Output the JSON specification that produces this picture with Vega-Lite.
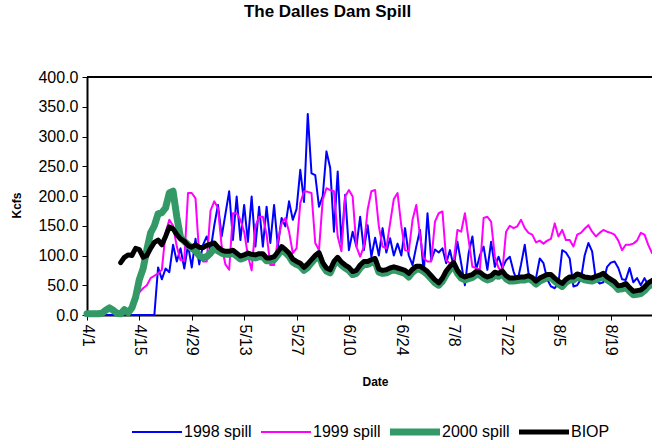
{
  "$schema": "https://vega.github.io/schema/vega-lite/v6.json",
  "width": 565,
  "height": 238,
  "autosize": {"type": "none"},
  "padding": {"left": 87, "top": 77, "right": 0, "bottom": 127},
  "background": "white",
  "title": {"text": "The Dalles Dam Spill", "font": "Liberation Sans", "fontSize": 17, "fontWeight": "bold", "color": "black", "anchor": "middle", "frame": "group", "dx": -42, "offset": 48},
  "config": {
    "view": {"stroke": null},
    "legend": {"orient": "none", "legendX": 44, "legendY": 347, "direction": "horizontal", "symbolType": "stroke", "symbolSize": 2500, "clipHeight": 16, "labelFontSize": 16, "labelFont": "Liberation Sans", "labelColor": "black", "labelOffset": 1, "columnPadding": 8, "padding": 0},
    "axisY": {
      "values": [0, 50, 100, 150, 200, 250, 300, 350, 400], "format": ".1f",
      "labelFont": "Liberation Sans", "labelFontSize": 16, "labelColor": "black", "labelPadding": 4,
      "tickSize": 5, "tickColor": "black", "domainColor": "black", "domainWidth": 2, "grid": false,
      "titleFont": "Liberation Sans", "titleFontSize": 12, "titleFontWeight": "bold", "titleColor": "black",
      "titleX": -71, "titleY": 128, "titleAngle": -90, "titleAlign": "center", "titleBaseline": "middle"
    }
  },
  "data": {"values": [
    {"date":"2000/04/01","1998 spill":0,"2000 spill":2},
    {"date":"2000/04/02","1998 spill":0,"2000 spill":2},
    {"date":"2000/04/03","1998 spill":0,"2000 spill":2},
    {"date":"2000/04/04","1998 spill":0,"2000 spill":2},
    {"date":"2000/04/05","1998 spill":0,"2000 spill":3},
    {"date":"2000/04/06","1998 spill":0,"2000 spill":8},
    {"date":"2000/04/07","1998 spill":0,"2000 spill":12},
    {"date":"2000/04/08","1998 spill":0,"2000 spill":8},
    {"date":"2000/04/09","1998 spill":0,"2000 spill":3},
    {"date":"2000/04/10","1998 spill":0,"2000 spill":2,"BIOP":88},
    {"date":"2000/04/11","1998 spill":0,"2000 spill":9,"BIOP":97},
    {"date":"2000/04/12","1998 spill":0,"2000 spill":4,"BIOP":101},
    {"date":"2000/04/13","1998 spill":0,"2000 spill":12,"BIOP":100},
    {"date":"2000/04/14","1998 spill":0,"1999 spill":36,"2000 spill":30,"BIOP":112},
    {"date":"2000/04/15","1998 spill":0,"1999 spill":38,"2000 spill":60,"BIOP":110},
    {"date":"2000/04/16","1998 spill":0,"1999 spill":45,"2000 spill":78,"BIOP":97},
    {"date":"2000/04/17","1998 spill":0,"1999 spill":50,"2000 spill":110,"BIOP":100},
    {"date":"2000/04/18","1998 spill":0,"1999 spill":62,"2000 spill":138,"BIOP":112},
    {"date":"2000/04/19","1998 spill":0,"1999 spill":66,"2000 spill":150,"BIOP":122},
    {"date":"2000/04/20","1998 spill":80,"1999 spill":70,"2000 spill":170,"BIOP":126},
    {"date":"2000/04/21","1998 spill":60,"1999 spill":76,"2000 spill":172,"BIOP":118},
    {"date":"2000/04/22","1998 spill":78,"1999 spill":138,"2000 spill":180,"BIOP":132},
    {"date":"2000/04/23","1998 spill":72,"1999 spill":160,"2000 spill":205,"BIOP":148},
    {"date":"2000/04/24","1998 spill":118,"1999 spill":150,"2000 spill":208,"BIOP":145},
    {"date":"2000/04/25","1998 spill":90,"1999 spill":115,"2000 spill":165,"BIOP":135},
    {"date":"2000/04/26","1998 spill":112,"1999 spill":92,"2000 spill":130,"BIOP":128},
    {"date":"2000/04/27","1998 spill":78,"1999 spill":92,"2000 spill":124,"BIOP":124},
    {"date":"2000/04/28","1998 spill":118,"1999 spill":205,"2000 spill":118,"BIOP":117},
    {"date":"2000/04/29","1998 spill":80,"1999 spill":205,"2000 spill":112,"BIOP":114},
    {"date":"2000/04/30","1998 spill":128,"1999 spill":196,"2000 spill":108,"BIOP":118},
    {"date":"2000/05/01","1998 spill":85,"1999 spill":100,"2000 spill":100,"BIOP":114},
    {"date":"2000/05/02","1998 spill":118,"1999 spill":90,"2000 spill":96,"BIOP":113},
    {"date":"2000/05/03","1998 spill":132,"1999 spill":90,"2000 spill":98,"BIOP":117},
    {"date":"2000/05/04","1998 spill":108,"1999 spill":175,"2000 spill":104,"BIOP":119},
    {"date":"2000/05/05","1998 spill":150,"1999 spill":191,"2000 spill":112,"BIOP":121},
    {"date":"2000/05/06","1998 spill":185,"1999 spill":180,"2000 spill":108,"BIOP":114},
    {"date":"2000/05/07","1998 spill":132,"1999 spill":115,"2000 spill":104,"BIOP":109},
    {"date":"2000/05/08","1998 spill":170,"1999 spill":85,"2000 spill":102,"BIOP":107},
    {"date":"2000/05/09","1998 spill":208,"1999 spill":76,"2000 spill":102,"BIOP":107},
    {"date":"2000/05/10","1998 spill":126,"1999 spill":171,"2000 spill":104,"BIOP":109},
    {"date":"2000/05/11","1998 spill":199,"1999 spill":171,"2000 spill":99,"BIOP":104},
    {"date":"2000/05/12","1998 spill":126,"1999 spill":160,"2000 spill":94,"BIOP":99},
    {"date":"2000/05/13","1998 spill":185,"1999 spill":140,"2000 spill":96,"BIOP":101},
    {"date":"2000/05/14","1998 spill":123,"1999 spill":100,"2000 spill":99,"BIOP":104},
    {"date":"2000/05/15","1998 spill":199,"1999 spill":75,"2000 spill":97,"BIOP":102},
    {"date":"2000/05/16","1998 spill":115,"1999 spill":149,"2000 spill":96,"BIOP":101},
    {"date":"2000/05/17","1998 spill":182,"1999 spill":165,"2000 spill":98,"BIOP":103},
    {"date":"2000/05/18","1998 spill":115,"1999 spill":165,"2000 spill":98,"BIOP":103},
    {"date":"2000/05/19","1998 spill":182,"1999 spill":135,"2000 spill":91,"BIOP":96},
    {"date":"2000/05/20","1998 spill":121,"1999 spill":84,"2000 spill":91,"BIOP":96},
    {"date":"2000/05/21","1998 spill":185,"1999 spill":84,"2000 spill":93,"BIOP":98},
    {"date":"2000/05/22","1998 spill":115,"1999 spill":125,"2000 spill":101,"BIOP":106},
    {"date":"2000/05/23","1998 spill":163,"1999 spill":154,"2000 spill":110,"BIOP":115},
    {"date":"2000/05/24","1998 spill":149,"1999 spill":163,"2000 spill":105,"BIOP":110},
    {"date":"2000/05/25","1998 spill":191,"1999 spill":140,"2000 spill":99,"BIOP":104},
    {"date":"2000/05/26","1998 spill":160,"1999 spill":104,"2000 spill":89,"BIOP":94},
    {"date":"2000/05/27","1998 spill":178,"1999 spill":112,"2000 spill":85,"BIOP":90},
    {"date":"2000/05/28","1998 spill":244,"1999 spill":188,"2000 spill":82,"BIOP":87},
    {"date":"2000/05/29","1998 spill":190,"1999 spill":208,"2000 spill":75,"BIOP":80},
    {"date":"2000/05/30","1998 spill":338,"1999 spill":207,"2000 spill":80,"BIOP":86},
    {"date":"2000/05/31","1998 spill":238,"1999 spill":205,"2000 spill":88,"BIOP":93},
    {"date":"2000/06/01","1998 spill":235,"1999 spill":121,"2000 spill":95,"BIOP":100},
    {"date":"2000/06/02","1998 spill":182,"1999 spill":109,"2000 spill":100,"BIOP":105},
    {"date":"2000/06/03","1998 spill":200,"1999 spill":194,"2000 spill":83,"BIOP":88},
    {"date":"2000/06/04","1998 spill":275,"1999 spill":213,"2000 spill":74,"BIOP":79},
    {"date":"2000/06/05","1998 spill":247,"1999 spill":210,"2000 spill":71,"BIOP":76},
    {"date":"2000/06/06","1998 spill":140,"1999 spill":208,"2000 spill":85,"BIOP":90},
    {"date":"2000/06/07","1998 spill":241,"1999 spill":132,"2000 spill":92,"BIOP":97},
    {"date":"2000/06/08","1998 spill":121,"1999 spill":107,"2000 spill":84,"BIOP":89},
    {"date":"2000/06/09","1998 spill":202,"1999 spill":199,"2000 spill":79,"BIOP":84},
    {"date":"2000/06/10","1998 spill":109,"1999 spill":210,"2000 spill":75,"BIOP":80},
    {"date":"2000/06/11","1998 spill":140,"1999 spill":199,"2000 spill":68,"BIOP":73},
    {"date":"2000/06/12","1998 spill":115,"1999 spill":115,"2000 spill":70,"BIOP":75},
    {"date":"2000/06/13","1998 spill":165,"1999 spill":98,"2000 spill":79,"BIOP":84},
    {"date":"2000/06/14","1998 spill":109,"1999 spill":115,"2000 spill":85,"BIOP":90},
    {"date":"2000/06/15","1998 spill":151,"1999 spill":177,"2000 spill":85,"BIOP":90},
    {"date":"2000/06/16","1998 spill":98,"1999 spill":208,"2000 spill":88,"BIOP":93},
    {"date":"2000/06/17","1998 spill":130,"1999 spill":210,"2000 spill":90,"BIOP":95},
    {"date":"2000/06/18","1998 spill":100,"1999 spill":149,"2000 spill":72,"BIOP":77},
    {"date":"2000/06/19","1998 spill":146,"1999 spill":115,"2000 spill":70,"BIOP":75},
    {"date":"2000/06/20","1998 spill":105,"1999 spill":112,"2000 spill":71,"BIOP":76},
    {"date":"2000/06/21","1998 spill":129,"1999 spill":154,"2000 spill":74,"BIOP":79},
    {"date":"2000/06/22","1998 spill":100,"1999 spill":195,"2000 spill":76,"BIOP":81},
    {"date":"2000/06/23","1998 spill":120,"1999 spill":205,"2000 spill":74,"BIOP":79},
    {"date":"2000/06/24","1998 spill":100,"1999 spill":150,"2000 spill":72,"BIOP":77},
    {"date":"2000/06/25","1998 spill":146,"1999 spill":109,"2000 spill":70,"BIOP":75},
    {"date":"2000/06/26","1998 spill":100,"1999 spill":107,"2000 spill":64,"BIOP":70},
    {"date":"2000/06/27","1998 spill":84,"1999 spill":160,"2000 spill":72,"BIOP":77},
    {"date":"2000/06/28","1998 spill":115,"1999 spill":185,"2000 spill":77,"BIOP":82},
    {"date":"2000/06/29","1998 spill":143,"1999 spill":132,"2000 spill":77,"BIOP":82},
    {"date":"2000/06/30","1998 spill":71,"1999 spill":95,"2000 spill":73,"BIOP":78},
    {"date":"2000/07/01","1998 spill":171,"1999 spill":90,"2000 spill":68,"BIOP":73},
    {"date":"2000/07/02","1998 spill":92,"1999 spill":90,"2000 spill":61,"BIOP":66},
    {"date":"2000/07/03","1998 spill":110,"1999 spill":157,"2000 spill":54,"BIOP":59},
    {"date":"2000/07/04","1998 spill":105,"1999 spill":171,"2000 spill":50,"BIOP":54},
    {"date":"2000/07/05","1998 spill":112,"1999 spill":174,"2000 spill":57,"BIOP":62},
    {"date":"2000/07/06","1998 spill":87,"1999 spill":92,"2000 spill":68,"BIOP":74},
    {"date":"2000/07/07","1998 spill":109,"1999 spill":87,"2000 spill":77,"BIOP":82},
    {"date":"2000/07/08","1998 spill":81,"1999 spill":90,"2000 spill":83,"BIOP":88},
    {"date":"2000/07/09","1998 spill":123,"1999 spill":143,"2000 spill":70,"BIOP":75},
    {"date":"2000/07/10","1998 spill":87,"1999 spill":140,"2000 spill":62,"BIOP":67},
    {"date":"2000/07/11","1998 spill":50,"1999 spill":171,"2000 spill":59,"BIOP":64},
    {"date":"2000/07/12","1998 spill":104,"1999 spill":126,"2000 spill":61,"BIOP":66},
    {"date":"2000/07/13","1998 spill":132,"1999 spill":81,"2000 spill":63,"BIOP":68},
    {"date":"2000/07/14","1998 spill":76,"1999 spill":79,"2000 spill":68,"BIOP":73},
    {"date":"2000/07/15","1998 spill":100,"1999 spill":76,"2000 spill":67,"BIOP":72},
    {"date":"2000/07/16","1998 spill":115,"1999 spill":163,"2000 spill":62,"BIOP":67},
    {"date":"2000/07/17","1998 spill":76,"1999 spill":165,"2000 spill":59,"BIOP":64},
    {"date":"2000/07/18","1998 spill":123,"1999 spill":157,"2000 spill":61,"BIOP":66},
    {"date":"2000/07/19","1998 spill":81,"1999 spill":98,"2000 spill":67,"BIOP":72},
    {"date":"2000/07/20","1998 spill":98,"1999 spill":79,"2000 spill":65,"BIOP":70},
    {"date":"2000/07/21","1998 spill":79,"1999 spill":73,"2000 spill":69,"BIOP":74},
    {"date":"2000/07/22","1998 spill":92,"1999 spill":140,"2000 spill":61,"BIOP":66},
    {"date":"2000/07/23","1998 spill":98,"1999 spill":150,"2000 spill":57,"BIOP":62},
    {"date":"2000/07/24","1998 spill":73,"1999 spill":146,"2000 spill":57,"BIOP":62},
    {"date":"2000/07/25","1998 spill":56,"1999 spill":149,"2000 spill":58,"BIOP":63},
    {"date":"2000/07/26","1998 spill":85,"1999 spill":160,"2000 spill":59,"BIOP":64},
    {"date":"2000/07/27","1998 spill":118,"1999 spill":146,"2000 spill":59,"BIOP":64},
    {"date":"2000/07/28","1998 spill":70,"1999 spill":138,"2000 spill":61,"BIOP":66},
    {"date":"2000/07/29","1998 spill":62,"1999 spill":135,"2000 spill":58,"BIOP":63},
    {"date":"2000/07/30","1998 spill":62,"1999 spill":122,"2000 spill":52,"BIOP":57},
    {"date":"2000/07/31","1998 spill":95,"1999 spill":125,"2000 spill":57,"BIOP":62},
    {"date":"2000/08/01","1998 spill":87,"1999 spill":120,"2000 spill":60,"BIOP":65},
    {"date":"2000/08/02","1998 spill":60,"1999 spill":125,"2000 spill":63,"BIOP":68},
    {"date":"2000/08/03","1998 spill":48,"1999 spill":128,"2000 spill":63,"BIOP":68},
    {"date":"2000/08/04","1998 spill":45,"1999 spill":154,"2000 spill":57,"BIOP":62},
    {"date":"2000/08/05","1998 spill":53,"1999 spill":132,"2000 spill":52,"BIOP":57},
    {"date":"2000/08/06","1998 spill":109,"1999 spill":143,"2000 spill":48,"BIOP":53},
    {"date":"2000/08/07","1998 spill":105,"1999 spill":126,"2000 spill":55,"BIOP":60},
    {"date":"2000/08/08","1998 spill":95,"1999 spill":126,"2000 spill":59,"BIOP":64},
    {"date":"2000/08/09","1998 spill":48,"1999 spill":115,"2000 spill":59,"BIOP":64},
    {"date":"2000/08/10","1998 spill":50,"1999 spill":135,"2000 spill":64,"BIOP":69},
    {"date":"2000/08/11","1998 spill":60,"1999 spill":138,"2000 spill":62,"BIOP":67},
    {"date":"2000/08/12","1998 spill":100,"1999 spill":145,"2000 spill":59,"BIOP":64},
    {"date":"2000/08/13","1998 spill":121,"1999 spill":151,"2000 spill":58,"BIOP":63},
    {"date":"2000/08/14","1998 spill":107,"1999 spill":140,"2000 spill":57,"BIOP":62},
    {"date":"2000/08/15","1998 spill":59,"1999 spill":132,"2000 spill":60,"BIOP":65},
    {"date":"2000/08/16","1998 spill":53,"1999 spill":138,"2000 spill":62,"BIOP":67},
    {"date":"2000/08/17","1998 spill":55,"1999 spill":143,"2000 spill":65,"BIOP":70},
    {"date":"2000/08/18","1998 spill":81,"1999 spill":140,"2000 spill":59,"BIOP":64},
    {"date":"2000/08/19","1998 spill":88,"1999 spill":138,"2000 spill":55,"BIOP":60},
    {"date":"2000/08/20","1998 spill":90,"1999 spill":135,"2000 spill":50,"BIOP":56},
    {"date":"2000/08/21","1998 spill":79,"1999 spill":125,"2000 spill":43,"BIOP":49},
    {"date":"2000/08/22","1998 spill":60,"1999 spill":109,"2000 spill":44,"BIOP":50},
    {"date":"2000/08/23","1998 spill":59,"1999 spill":118,"2000 spill":47,"BIOP":53},
    {"date":"2000/08/24","1998 spill":79,"1999 spill":118,"2000 spill":40,"BIOP":46},
    {"date":"2000/08/25","1998 spill":55,"1999 spill":120,"2000 spill":34,"BIOP":40},
    {"date":"2000/08/26","1998 spill":62,"1999 spill":125,"2000 spill":35,"BIOP":41},
    {"date":"2000/08/27","1998 spill":50,"1999 spill":138,"2000 spill":36,"BIOP":42},
    {"date":"2000/08/28","1998 spill":62,"1999 spill":135,"2000 spill":41,"BIOP":47},
    {"date":"2000/08/29","1998 spill":50,"1999 spill":118,"2000 spill":48,"BIOP":54},
    {"date":"2000/08/30","1998 spill":58,"1999 spill":104,"2000 spill":52,"BIOP":58}
  ]},
  "transform": [{"fold": ["1998 spill", "1999 spill", "2000 spill", "BIOP"], "as": ["series", "value"]}],
  "layer": [
    {
      "encoding": {
        "x": {
          "field": "date", "type": "temporal",
          "scale": {"domain": [{"year": 2000, "month": 4, "date": 1}, {"year": 2000, "month": 8, "date": 30}]},
          "axis": {
            "values": [
              {"year": 2000, "month": 4, "date": 1}, {"year": 2000, "month": 4, "date": 15}, {"year": 2000, "month": 4, "date": 29},
              {"year": 2000, "month": 5, "date": 13}, {"year": 2000, "month": 5, "date": 27}, {"year": 2000, "month": 6, "date": 10},
              {"year": 2000, "month": 6, "date": 24}, {"year": 2000, "month": 7, "date": 8}, {"year": 2000, "month": 7, "date": 22},
              {"year": 2000, "month": 8, "date": 5}, {"year": 2000, "month": 8, "date": 19}
            ],
            "format": "%-m/%-d", "labelAngle": 90, "labelFont": "Liberation Sans", "labelFontSize": 16, "labelColor": "black",
            "labelPadding": 4, "tickSize": 5, "tickColor": "black", "domainColor": "black", "domainWidth": 2, "grid": false,
            "labelOverlap": false, "labelFlush": false,
            "title": "Date", "titleFont": "Liberation Sans", "titleFontSize": 12, "titleFontWeight": "bold", "titleColor": "black",
            "titleX": 288, "titleY": 66, "titleAlign": "center", "titleBaseline": "middle"
          }
        },
        "y": {
          "field": "value", "type": "quantitative",
          "scale": {"domain": [0, 400], "nice": false},
          "axis": {"title": "Kcfs"}
        },
        "color": {
          "field": "series", "type": "nominal",
          "scale": {"domain": ["1998 spill", "1999 spill", "2000 spill", "BIOP"], "range": ["#0000FF", "#FF00FF", "#339966", "#000000"]},
          "legend": {
            "title": null,
            "encode": {"symbols": {"update": {"strokeWidth": {"signal": "(datum.value === '2000 spill' ? 7 : (datum.value === 'BIOP' ? 5 : 2))"}}}}
          }
        }
      },
      "layer": [
        {"transform": [{"filter": "datum.series === '1998 spill'"}], "mark": {"type": "line", "strokeWidth": 2, "strokeJoin": "round", "strokeCap": "round"}},
        {"transform": [{"filter": "datum.series === '1999 spill'"}], "mark": {"type": "line", "strokeWidth": 2, "strokeJoin": "round", "strokeCap": "round"}},
        {"transform": [{"filter": "datum.series === '2000 spill'"}], "mark": {"type": "line", "strokeWidth": 7, "strokeJoin": "round", "strokeCap": "round"}},
        {"transform": [{"filter": "datum.series === 'BIOP'"}], "mark": {"type": "line", "strokeWidth": 5, "strokeJoin": "round", "strokeCap": "round"}}
      ]
    },
    {
      "data": {"values": [{}]},
      "mark": {"type": "rule", "color": "black", "strokeWidth": 2},
      "encoding": {"y": {"datum": 400, "type": "quantitative", "axis": {"title": "Kcfs"}}}
    }
  ]
}
